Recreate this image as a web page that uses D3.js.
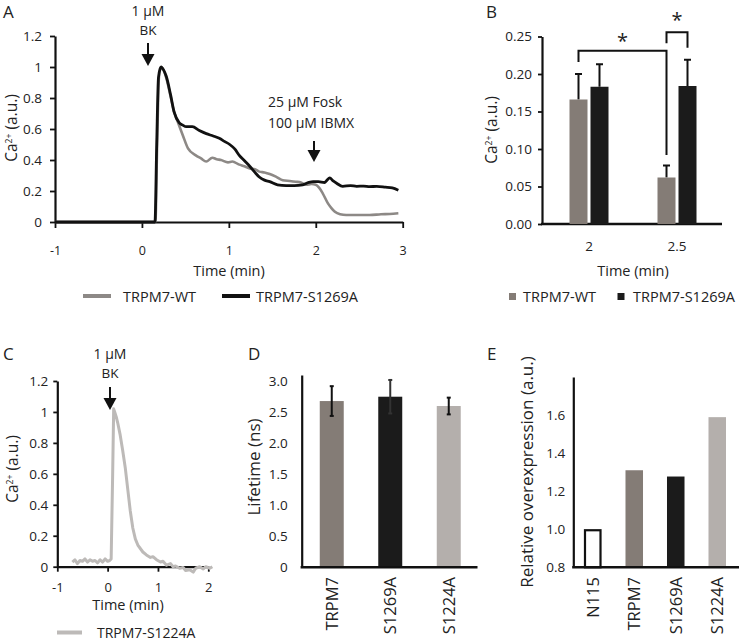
<!DOCTYPE html>
<html><head><meta charset="utf-8">
<script src="https://cdn.jsdelivr.net/npm/d3@7"></script>
<style>
body{margin:0;background:#fff}
svg text{font-family:'Open Sans',sans-serif;fill:#222}
.narrow text{font-family:'Liberation Sans Narrow','Open Sans',sans-serif}
</style>
</head><body>
<svg id="c" width="739" height="640"></svg>
<script>
// ---------------- DATA ----------------
// Panel A traces (time in min, Ca2+ a.u.)
const aWT_t = [-1,-0.5,0,0.155,0.175,0.195,0.215,0.23,0.28,0.33,0.37,0.41,0.47,0.53,0.62,0.68,0.74,0.81,0.86,0.91,0.99,1.04,1.12,1.18,1.24,1.3,1.35,1.41,1.47,1.55,1.62,1.7,1.77,1.83,1.89,1.95,2.0,2.04,2.08,2.14,2.18,2.22,2.28,2.35,2.5,2.62,2.75,2.85,2.95];
const aWT_v = [0,0,0,0,0.5,0.93,0.99,0.995,0.93,0.81,0.71,0.65,0.56,0.475,0.43,0.41,0.39,0.415,0.405,0.40,0.385,0.39,0.37,0.36,0.345,0.34,0.325,0.32,0.31,0.29,0.27,0.265,0.26,0.255,0.24,0.245,0.24,0.22,0.185,0.12,0.09,0.066,0.05,0.045,0.045,0.045,0.05,0.052,0.056];
const aS1269A_t = [-1,-0.5,0,0.15,0.17,0.19,0.21,0.22,0.25,0.28,0.33,0.37,0.43,0.47,0.51,0.58,0.66,0.74,0.82,0.89,0.95,1.01,1.07,1.12,1.18,1.24,1.3,1.35,1.41,1.47,1.56,1.66,1.75,1.85,1.92,1.97,2.03,2.10,2.13,2.16,2.2,2.24,2.31,2.4,2.47,2.55,2.62,2.7,2.8,2.88,2.95];
const aS1269A_v = [0,0,0,0,0.5,0.93,0.99,1.0,0.98,0.94,0.82,0.71,0.64,0.625,0.615,0.615,0.59,0.57,0.555,0.54,0.52,0.50,0.47,0.43,0.395,0.36,0.32,0.29,0.27,0.26,0.24,0.235,0.235,0.24,0.255,0.26,0.26,0.255,0.27,0.285,0.265,0.25,0.23,0.235,0.23,0.232,0.228,0.23,0.225,0.22,0.205];
const aXTicks = [-1,0,1,2,3];
const aYTicks = [0,0.2,0.4,0.6,0.8,1,1.2];

// Panel B
const bCategories = ["2","2.5"];
const bSeries = ["TRPM7-WT","TRPM7-S1269A"];
const bWT = [0.166,0.062];
const bWTerr = [0.034,0.016];
const bS1269A = [0.183,0.184];
const bS1269Aerr = [0.030,0.035];
const bYTicks = [0,0.05,0.10,0.15,0.20,0.25];

// Panel C trace
const cS1224A_t = [-0.7,-0.65,-0.6,-0.55,-0.5,-0.45,-0.4,-0.35,-0.3,-0.25,-0.2,-0.15,-0.1,-0.05,0,0.04,0.07,0.1,0.12,0.14,0.17,0.2,0.25,0.3,0.35,0.4,0.45,0.5,0.55,0.6,0.7,0.77,0.85,0.9,0.97,1.05,1.1,1.17,1.25,1.3,1.35,1.43,1.5,1.55,1.63,1.7,1.75,1.83,1.9,1.95,2.03,2.08];
const cS1224A_v = [0.03,0.045,0.02,0.04,0.035,0.05,0.03,0.045,0.035,0.04,0.025,0.045,0.03,0.05,0.035,0.04,0.05,0.6,1.02,1.0,0.97,0.93,0.85,0.75,0.64,0.5,0.36,0.25,0.18,0.14,0.095,0.076,0.06,0.065,0.045,0.03,0.035,0.01,0.02,0.0,0.005,-0.01,-0.005,-0.025,-0.02,-0.035,-0.01,0.0,-0.015,0.0,-0.01,0.0];
const cXTicks = [-1,0,1,2];
const cYTicks = [0,0.2,0.4,0.6,0.8,1,1.2];

// Panel D
const dCategories = ["TRPM7","S1269A","S1224A"];
const dLifetime = [2.68,2.75,2.60];
const dErr = [0.24,0.27,0.135];
const dYTicks = [0,0.5,1.0,1.5,2.0,2.5,3.0];

// Panel E
const eCategories = ["N115","TRPM7","S1269A","S1224A"];
const eOverexpression = [1.0,1.31,1.277,1.589];
const eYTicks = [0.8,1.0,1.2,1.4,1.6];

// ---------------- STYLE ----------------
const colWTline = "#8d8986", colBlack = "#111111", colC = "#bdbab8";
const barWT = "#847c76", barS1269 = "#1b1b1b", barS1224 = "#b4afac";

const svg = d3.select("#c");
svg.append("rect").attr("width",739).attr("height",640).attr("fill","#fff");

function styleAxis(g, w){
  g.selectAll(".domain").attr("stroke","#111").attr("stroke-width",w||2.2);
  g.selectAll(".tick line").attr("stroke","#111").attr("stroke-width",1.8);
  g.selectAll(".tick text").attr("fill","#222");
}
function caLabel(x,y,size){
  const t = svg.append("text").attr("transform",`translate(${x},${y}) rotate(-90)`)
    .attr("text-anchor","middle").attr("font-size",size);
  t.append("tspan").text("Ca");
  t.append("tspan").attr("font-size",size*0.55).attr("dy",-size*0.33).text("2+");
  t.append("tspan").attr("dy",size*0.33).text(" (a.u.)");
}
function vlabel(x,y,size,txt){
  svg.append("text").attr("transform",`translate(${x},${y}) rotate(-90)`)
    .attr("text-anchor","middle").attr("font-size",size).text(txt);
}
function arrow(x,y0,y1){
  svg.append("line").attr("x1",x).attr("x2",x).attr("y1",y0).attr("y2",y1-6)
    .attr("stroke","#111").attr("stroke-width",2);
  svg.append("path").attr("d",`M${x-6.5},${y1-12}L${x+6.5},${y1-12}L${x},${y1}Z`).attr("fill","#111");
}
function panelLetter(x,y,t){
  svg.append("text").attr("x",x).attr("y",y).attr("font-size",17).text(t);
}

// ---------------- PANEL A ----------------
{
  const x = d3.scaleLinear().domain([-1,3]).range([55,402.7]);
  const y = d3.scaleLinear().domain([0,1.2]).range([222,36]);
  const gx = svg.append("g").attr("class","narrow").attr("transform","translate(0,222)")
    .call(d3.axisBottom(x).tickValues(aXTicks).tickSize(6).tickPadding(18).tickSizeOuter(0).tickFormat(d=>String(d)));
  gx.selectAll("text").attr("font-size",12.5);
  styleAxis(gx);
  const gy = svg.append("g").attr("transform","translate(55,0)")
    .call(d3.axisLeft(y).tickValues(aYTicks).tickSize(5).tickPadding(8).tickSizeOuter(0).tickFormat(d=>String(d)));
  gy.selectAll("text").attr("font-size",13.5);
  styleAxis(gy);
  const line = d3.line().x(d=>x(d[0])).y(d=>y(d[1])).curve(d3.curveMonotoneX);
  svg.append("path").datum(d3.zip(aWT_t,aWT_v)).attr("d",line).attr("fill","none")
    .attr("stroke",colWTline).attr("stroke-width",2.6).attr("stroke-linejoin","round");
  svg.append("path").datum(d3.zip(aS1269A_t,aS1269A_v)).attr("d",line).attr("fill","none")
    .attr("stroke",colBlack).attr("stroke-width",2.8).attr("stroke-linejoin","round");
  caLabel(17,128,15.5);
  svg.append("text").attr("x",229).attr("y",276).attr("text-anchor","middle").attr("font-size",14.5).text("Time (min)");
  // annotations
  svg.append("text").attr("x",148).attr("y",16).attr("text-anchor","middle").attr("font-size",14).text("1 µM");
  svg.append("text").attr("x",148).attr("y",35).attr("text-anchor","middle").attr("font-size",13.5).text("BK");
  arrow(148,43,66);
  svg.append("text").attr("x",268).attr("y",107).attr("font-size",14).text("25 µM Fosk");
  svg.append("text").attr("x",268).attr("y",128).attr("font-size",14).text("100 µM IBMX");
  arrow(314,141,162);
  // legend
  svg.append("line").attr("x1",83).attr("x2",111).attr("y1",296).attr("y2",296).attr("stroke",colWTline).attr("stroke-width",4);
  svg.append("text").attr("x",123).attr("y",301.5).attr("font-size",14.5).text(bSeries[0]);
  svg.append("line").attr("x1",222).attr("x2",250).attr("y1",296).attr("y2",296).attr("stroke",colBlack).attr("stroke-width",4);
  svg.append("text").attr("x",256).attr("y",301.5).attr("font-size",14.5).text(bSeries[1]);
  panelLetter(3,18,"A");
}

// ---------------- PANEL B ----------------
{
  const x0 = d3.scaleBand().domain(bCategories).range([545,721]);
  const bw = x0.bandwidth();
  const x1 = d3.scaleBand().domain(bSeries).range([bw/2-19.5,bw/2+19.5]).paddingInner(0.1428);
  const y = d3.scaleLinear().domain([0,0.25]).range([224,36.5]);
  const gy = svg.append("g").attr("transform","translate(542,0)")
    .call(d3.axisLeft(y).tickValues(bYTicks).tickSize(4).tickPadding(6).tickSizeOuter(0).tickFormat(d3.format(".2f")));
  gy.selectAll("text").attr("font-size",13.5);
  styleAxis(gy);
  svg.append("line").attr("x1",541).attr("x2",722).attr("y1",y(0)).attr("y2",y(0)).attr("stroke","#111").attr("stroke-width",2.4);
  const vals = {"TRPM7-WT":bWT,"TRPM7-S1269A":bS1269A};
  const errs = {"TRPM7-WT":bWTerr,"TRPM7-S1269A":bS1269Aerr};
  const cols = {"TRPM7-WT":barWT,"TRPM7-S1269A":barS1269};
  bCategories.forEach((c,i)=>{
    bSeries.forEach(s=>{
      const bx = x0(c)+x1(s), v = vals[s][i], e = errs[s][i], cx = bx + x1.bandwidth()/2;
      svg.append("line").attr("x1",cx).attr("x2",cx).attr("y1",y(v)).attr("y2",y(v+e)).attr("stroke","#111").attr("stroke-width",2);
      svg.append("line").attr("x1",cx-3.5).attr("x2",cx+3.5).attr("y1",y(v+e)).attr("y2",y(v+e)).attr("stroke","#111").attr("stroke-width",2);
      svg.append("rect").attr("x",bx).attr("y",y(v)).attr("width",x1.bandwidth()).attr("height",y(0)-y(v)).attr("fill",cols[s]);
    });
    svg.append("text").attr("x",x0(c)+bw/2).attr("y",250.5).attr("text-anchor","middle").attr("font-size",13.5).text(c);
  });
  // significance brackets
  const cWT2 = x0("2")+x1("TRPM7-WT")+x1.bandwidth()/2;
  const cWT25 = x0("2.5")+x1("TRPM7-WT")+x1.bandwidth()/2;
  const cS25 = x0("2.5")+x1("TRPM7-S1269A")+x1.bandwidth()/2;
  svg.append("path").attr("d",`M${cWT2},${y(0.216)}V${y(0.231)}H${cWT25}V${y(0.092)}`).attr("fill","none").attr("stroke","#111").attr("stroke-width",2);
  svg.append("path").attr("d",`M${cWT25},${y(0.241)}V${y(0.2556)}H${cS25}V${y(0.235)}`).attr("fill","none").attr("stroke","#111").attr("stroke-width",2);
  svg.append("text").attr("x",(cWT2+cWT25)/2).attr("y",48).attr("text-anchor","middle").attr("font-size",20).text("*");
  svg.append("text").attr("x",(cWT25+cS25)/2).attr("y",27).attr("text-anchor","middle").attr("font-size",20).text("*");
  caLabel(497,130,15.5);
  svg.append("text").attr("x",633).attr("y",276).attr("text-anchor","middle").attr("font-size",14.5).text("Time (min)");
  svg.append("rect").attr("x",509).attr("y",293).attr("width",7).attr("height",7).attr("fill",barWT);
  svg.append("text").attr("x",523).attr("y",301.5).attr("font-size",14.5).text(bSeries[0]);
  svg.append("rect").attr("x",617.5).attr("y",293).attr("width",7).attr("height",7).attr("fill",barS1269);
  svg.append("text").attr("x",633).attr("y",301.5).attr("font-size",14.5).text(bSeries[1]);
  panelLetter(486,18,"B");
}

// ---------------- PANEL C ----------------
{
  const x = d3.scaleLinear().domain([-1,2]).range([57.3,208.3]);
  const y = d3.scaleLinear().domain([0,1.2]).range([566.7,381]);
  const gx = svg.append("g").attr("class","narrow").attr("transform","translate(0,566.7)")
    .call(d3.axisBottom(x).tickValues(cXTicks).tickSize(5).tickPadding(11).tickSizeOuter(0).tickFormat(d=>String(d)));
  gx.selectAll("text").attr("font-size",13);
  styleAxis(gx);
  const gy = svg.append("g").attr("transform","translate(57.3,0)")
    .call(d3.axisLeft(y).tickValues(cYTicks).tickSize(4).tickPadding(5).tickSizeOuter(0).tickFormat(d=>String(d)));
  gy.selectAll("text").attr("font-size",13.5);
  styleAxis(gy);
  const line = d3.line().x(d=>x(d[0])).y(d=>y(d[1]));
  svg.append("path").datum(d3.zip(cS1224A_t,cS1224A_v)).attr("d",line).attr("fill","none")
    .attr("stroke",colC).attr("stroke-width",3).attr("stroke-linejoin","round");
  caLabel(18,469,15.5);
  svg.append("text").attr("x",128).attr("y",610).attr("text-anchor","middle").attr("font-size",14.5).text("Time (min)");
  svg.append("text").attr("x",110).attr("y",359).attr("text-anchor","middle").attr("font-size",14).text("1 µM");
  svg.append("text").attr("x",110).attr("y",378).attr("text-anchor","middle").attr("font-size",13.5).text("BK");
  arrow(110,387,410);
  svg.append("line").attr("x1",57).attr("x2",82).attr("y1",632.5).attr("y2",632.5).attr("stroke",colC).attr("stroke-width",4);
  svg.append("text").attr("x",97).attr("y",637.5).attr("font-size",14).text("TRPM7-S1224A");
  panelLetter(3,360,"C");
}

// ---------------- PANEL D ----------------
{
  const x = d3.scaleBand().domain(dCategories).range([302.5,478]).paddingInner(0.59).paddingOuter(0.295);
  const y = d3.scaleLinear().domain([0,3.1]).range([567.3,375]);
  const gy = svg.append("g").attr("transform","translate(301.7,0)")
    .call(d3.axisLeft(y).tickValues(dYTicks).tickSize(0).tickPadding(14).tickSizeOuter(0).tickFormat(d=>d===0?"0":d3.format(".1f")(d)));
  gy.selectAll("text").attr("font-size",13.5);
  styleAxis(gy);
  const cols = [barWT,barS1269,barS1224];
  dCategories.forEach((c,i)=>{
    const cx = x(c)+x.bandwidth()/2, v=dLifetime[i], e=dErr[i];
    svg.append("rect").attr("x",x(c)).attr("y",y(v)).attr("width",x.bandwidth()).attr("height",y(0)-y(v)).attr("fill",cols[i]);
    const ec = i===1 ? "#333" : "#111";
    svg.append("line").attr("x1",cx).attr("x2",cx).attr("y1",y(v-e)).attr("y2",y(v+e)).attr("stroke",ec).attr("stroke-width",2);
    [v-e,v+e].forEach(q=>svg.append("line").attr("x1",cx-2).attr("x2",cx+2).attr("y1",y(q)).attr("y2",y(q)).attr("stroke",ec).attr("stroke-width",2));
    svg.append("text").attr("transform",`translate(${cx},577) rotate(-90)`).attr("text-anchor","end")
      .attr("dy","0.36em").attr("font-size",16.5).text(c);
  });
  svg.append("line").attr("x1",300.6).attr("x2",477.5).attr("y1",567.3).attr("y2",567.3).attr("stroke","#111").attr("stroke-width",2.4);
  vlabel(260,467,17,"Lifetime (ns)");
  panelLetter(248,360,"D");
}

// ---------------- PANEL E ----------------
{
  const x = d3.scaleBand().domain(eCategories).range([572,738]).paddingInner(0.578).paddingOuter(0.289);
  const y = d3.scaleLinear().domain([0.8,1.8]).range([567.3,377]);
  const gy = svg.append("g").attr("transform","translate(573.3,0)")
    .call(d3.axisLeft(y).tickValues(eYTicks).tickSize(0).tickPadding(8).tickSizeOuter(0).tickFormat(d3.format(".1f")));
  gy.selectAll("text").attr("font-size",13.5);
  styleAxis(gy);
  const cols = [null,barWT,barS1269,barS1224];
  eCategories.forEach((c,i)=>{
    const cx = x(c)+x.bandwidth()/2, v=eOverexpression[i];
    if(i===0){
      svg.append("rect").attr("x",x(c)+1).attr("y",y(v)+1).attr("width",x.bandwidth()-2).attr("height",y(0.8)-y(v)-1)
        .attr("fill","#fff").attr("stroke","#111").attr("stroke-width",2.2);
    } else {
      svg.append("rect").attr("x",x(c)).attr("y",y(v)).attr("width",x.bandwidth()).attr("height",y(0.8)-y(v)).attr("fill",cols[i]);
    }
    svg.append("text").attr("transform",`translate(${cx},577) rotate(-90)`).attr("text-anchor","end")
      .attr("dy","0.36em").attr("font-size",16.5).text(c);
  });
  svg.append("line").attr("x1",572.2).attr("x2",739).attr("y1",567.3).attr("y2",567.3).attr("stroke","#111").attr("stroke-width",2.4);
  vlabel(533,472,17,"Relative overexpression (a.u.)");
  panelLetter(487,360,"E");
}
</script>
</body></html>
